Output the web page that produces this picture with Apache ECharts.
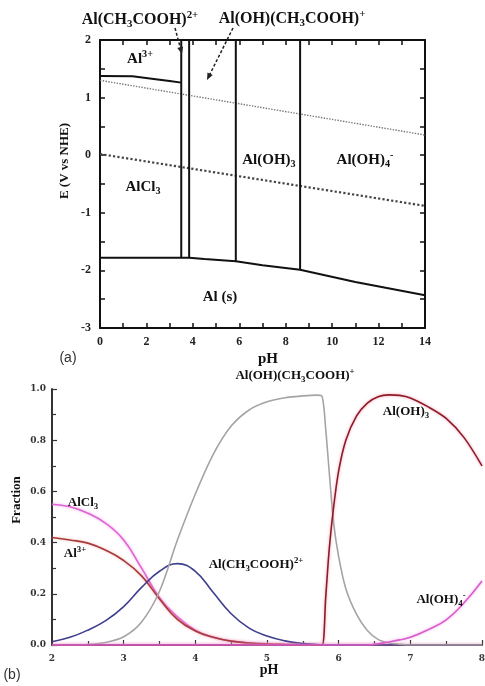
<!DOCTYPE html>
<html>
<head>
<meta charset="utf-8">
<script src="https://cdn.jsdelivr.net/npm/echarts@6/dist/echarts.min.js"></script>
<style>
  html, body { margin: 0; padding: 0; background: #fff; }
  #chart { width: 485px; height: 686px; }
</style>
</head>
<body>
<div id="chart"></div>
<script>
// (a) E-pH diagram boundaries
const aqBoundaryPH = [0, 1.4, 2.4, 3.0, 3.5]
const aqBoundaryE = [1.375, 1.37, 1.32, 1.29, 1.26]
const dividerPH = [3.5, 3.84, 5.85, 8.62]
const dividerBottomE = [-1.78, -1.78, -1.84, -1.99]
const solidPH = [0, 3.84, 4.5, 5.85, 7, 8.62, 11, 14]
const solidE = [-1.78, -1.78, -1.8, -1.84, -1.91, -1.99, -2.2, -2.43]
const waterPH = [0, 14]
const oxygenE = [1.3, 0.35]
const hydrogenE = [0.02, -0.88]

// (b) species fractions
const fracPH = [2, 2.25, 2.5, 2.75, 3, 3.25, 3.5, 3.75, 4, 4.25, 4.5, 4.75, 5, 5.25, 5.5, 5.7,
  5.77, 5.82, 5.87, 5.93, 6, 6.1, 6.25, 6.4, 6.55, 6.7, 6.85, 7, 7.25, 7.5, 7.75, 8]
const fracAlCl3 = [0.55, 0.54, 0.515, 0.475, 0.41, 0.3, 0.185, 0.11, 0.058, 0.03, 0.015, 0.008, 0.004, 0.002, 0.001, 0,
  0, 0, 0, 0, 0, 0, 0, 0, 0, 0, 0, 0, 0, 0, 0, 0]
const fracAl3 = [0.42, 0.41, 0.398, 0.37, 0.33, 0.27, 0.18, 0.1, 0.055, 0.03, 0.015, 0.008, 0.004, 0.002, 0.001, 0,
  0, 0, 0, 0, 0, 0, 0, 0, 0, 0, 0, 0, 0, 0, 0, 0]
const fracAcetate = [0.013, 0.03, 0.058, 0.095, 0.15, 0.225, 0.288, 0.318, 0.288, 0.205, 0.122, 0.066, 0.035, 0.016, 0.006, 0.002,
  0, 0, 0, 0, 0, 0, 0, 0, 0, 0, 0, 0, 0, 0, 0, 0]
const fracHydroxoAcetate = [0, 0, 0.002, 0.01, 0.032, 0.09, 0.21, 0.41, 0.59, 0.745, 0.855, 0.918, 0.95, 0.966, 0.973, 0.976,
  0.97, 0.84, 0.67, 0.476, 0.345, 0.22, 0.12, 0.057, 0.022, 0.008, 0.003, 0, 0, 0, 0, 0]
const fracAlOH3 = [0, 0, 0, 0, 0, 0, 0, 0, 0, 0, 0, 0, 0, 0, 0, 0,
  0, 0.19, 0.38, 0.54, 0.68, 0.8, 0.895, 0.945, 0.97, 0.977, 0.975, 0.965, 0.93, 0.885, 0.81, 0.7]
const fracAlOH4 = [0, 0, 0, 0, 0, 0, 0, 0, 0, 0, 0, 0, 0, 0, 0, 0,
  0, 0, 0, 0, 0, 0, 0, 0, 0.005, 0.012, 0.02, 0.03, 0.06, 0.098, 0.165, 0.25]

const serif = 'Liberation Serif'
const zip = (xs, ys) => xs.map((x, i) => [x, ys[i]])

const chart = echarts.init(document.getElementById('chart'))

function frameAxis(extra) {
  return Object.assign({
    type: 'value',
    splitLine: { show: false },
    axisLine: { onZero: false, lineStyle: { color: '#111', width: 2 } },
    axisTick: { inside: true, length: 5, lineStyle: { color: '#111', width: 1.5 } },
    minorTick: { show: true, splitNumber: 2, length: 5, lineStyle: { color: '#111', width: 1.5 } },
    axisLabel: { show: false }
  }, extra)
}

const tickFontA = { color: '#222', fontFamily: serif, fontWeight: 'bold', fontSize: 12 }
const tickFontB = { color: '#333', fontFamily: 'DejaVu Serif', fontWeight: 'bold', fontSize: 9 }

function label(x, y, text, size, extra) {
  return Object.assign({
    type: 'text', x: x, y: y, z: 100,
    style: {
      text: text,
      align: 'center',
      verticalAlign: 'middle',
      fill: '#111',
      fontFamily: serif,
      fontWeight: 'bold',
      fontSize: size,
      rich: {
        n: { fontFamily: serif, fontWeight: 'bold', fontSize: size, lineHeight: size + 4, fill: '#111' },
        sub: { fontFamily: serif, fontWeight: 'bold', fontSize: size * 0.68, lineHeight: size * 0.68, verticalAlign: 'bottom', fill: '#111' },
        sup: { fontFamily: serif, fontWeight: 'bold', fontSize: size * 0.68, lineHeight: size * 0.68, verticalAlign: 'top', fill: '#111' }
      }
    }
  }, extra)
}

function arrow(x1, y1, x2, y2) {
  const a = Math.atan2(y2 - y1, x2 - x1)
  const L = 7, W = 3
  return [
    { type: 'line', z: 100, shape: { x1: x1, y1: y1, x2: x2 - 4 * Math.cos(a), y2: y2 - 4 * Math.sin(a) },
      style: { stroke: '#222', lineWidth: 1.5, lineDash: [3, 2] } },
    { type: 'polygon', z: 100, shape: { points: [
      [x2, y2],
      [x2 - L * Math.cos(a) + W * Math.sin(a), y2 - L * Math.sin(a) - W * Math.cos(a)],
      [x2 - L * Math.cos(a) - W * Math.sin(a), y2 - L * Math.sin(a) + W * Math.cos(a)]
    ] }, style: { fill: '#222' } }
  ]
}

const hydroxoAcetate = '{n|Al(OH)(CH}{sub|3}{n|COOH)}{sup|+}'
const acetate = '{n|Al(CH}{sub|3}{n|COOH)}{sup|2+}'

function fracSeries(name, values, color, glow, smooth) {
  return {
    name: name, type: 'line', xAxisIndex: 2, yAxisIndex: 2,
    data: zip(fracPH, values), symbol: 'none', smooth: smooth || 0.45,
    lineStyle: { color: color, width: 1.6, shadowColor: glow || 'transparent', shadowBlur: glow ? 3 : 0 }
  }
}

chart.setOption({
  animation: false,
  backgroundColor: '#fff',
  grid: [
    { left: 100, top: 40, width: 325, height: 288, containLabel: false, outerBoundsMode: 'none' },
    { left: 52, top: 389, width: 430, height: 256, containLabel: false, outerBoundsMode: 'none' }
  ],
  xAxis: [
    frameAxis({ gridIndex: 0, position: 'bottom', min: 0, max: 14, interval: 2,
      axisLabel: Object.assign({ show: true, margin: 8 }, tickFontA) }),
    frameAxis({ gridIndex: 0, position: 'top', min: 0, max: 14, interval: 2 }),
    frameAxis({ gridIndex: 1, position: 'bottom', min: 2, max: 8, interval: 1,
      axisLine: { onZero: false, lineStyle: { color: '#333', width: 2 } },
      axisTick: { inside: true, length: 5, lineStyle: { color: '#333', width: 1.2 } },
      minorTick: { show: true, splitNumber: 2, length: 4, lineStyle: { color: '#333', width: 1.2 } },
      axisLabel: Object.assign({ show: true, margin: 9 }, tickFontB) })
  ],
  yAxis: [
    frameAxis({ gridIndex: 0, position: 'left', min: -3, max: 2, interval: 1,
      axisLabel: Object.assign({ show: true, margin: 9 }, tickFontA) }),
    frameAxis({ gridIndex: 0, position: 'right', min: -3, max: 2, interval: 1 }),
    frameAxis({ gridIndex: 1, position: 'left', min: 0, max: 1, interval: 0.2,
      axisLine: { onZero: false, lineStyle: { color: '#333', width: 2 } },
      axisTick: { inside: true, length: 5, lineStyle: { color: '#333', width: 1.2 } },
      minorTick: { show: true, splitNumber: 2, length: 4, lineStyle: { color: '#333', width: 1.2 } },
      axisLabel: Object.assign({ show: true, margin: 6, formatter: v => v.toFixed(1) }, tickFontB) })
  ],
  series: [
    { type: 'line', xAxisIndex: 0, yAxisIndex: 0, symbol: 'none', data: zip(waterPH, oxygenE),
      lineStyle: { color: '#777', width: 1.4, type: 'dotted' } },
    { type: 'line', xAxisIndex: 0, yAxisIndex: 0, symbol: 'none', data: zip(waterPH, hydrogenE),
      lineStyle: { color: '#444', width: 2.2, type: 'dotted' } },
    { type: 'line', xAxisIndex: 0, yAxisIndex: 0, symbol: 'none', data: zip(aqBoundaryPH, aqBoundaryE),
      lineStyle: { color: '#111', width: 2 } },
    { type: 'line', xAxisIndex: 0, yAxisIndex: 0, symbol: 'none', data: zip(solidPH, solidE),
      lineStyle: { color: '#111', width: 2 } },
    ...dividerPH.map((p, i) => ({
      type: 'line', xAxisIndex: 0, yAxisIndex: 0, symbol: 'none',
      data: [[p, 2], [p, dividerBottomE[i]]],
      lineStyle: { color: '#111', width: 2 }
    })),
    fracSeries('AlCl3', fracAlCl3, '#e064d4', 'rgba(240,150,230,0.8)'),
    fracSeries('Al3+', fracAl3, '#a83a3a', 'rgba(230,140,140,0.6)'),
    fracSeries('Al(CH3COOH)2+', fracAcetate, '#3e3e8e'),
    fracSeries('Al(OH)(CH3COOH)+', fracHydroxoAcetate, '#a4a4a4', null, 0.3),
    fracSeries('Al(OH)3', fracAlOH3, '#8e1c24', 'rgba(235,130,170,0.8)', 0.3),
    fracSeries('Al(OH)4-', fracAlOH4, '#d85ccc', 'rgba(240,150,230,0.8)')
  ],
  graphic: [
    // panel (a)
    label(140, 20, acetate, 16),
    label(292, 19, hydroxoAcetate, 16),
    ...arrow(175, 28, 182, 54),
    ...arrow(233, 28, 207, 80),
    label(140, 59, '{n|Al}{sup|3+}', 15),
    label(143, 187, '{n|AlCl}{sub|3}', 15),
    label(269, 160, '{n|Al(OH)}{sub|3}', 15),
    label(365, 160, '{n|Al(OH)}{sub|4}{sup|-}', 15),
    label(220, 297, '{n|Al (s)}', 15),
    label(65, 161, '{n|E (V vs NHE)}', 13, { rotation: Math.PI / 2 }),
    label(268, 359, '{n|pH}', 15),
    { type: 'text', x: 68, y: 358, style: { text: '(a)', align: 'center', verticalAlign: 'middle',
      fill: '#333', fontFamily: 'Liberation Sans', fontSize: 14 } },
    // panel (b)
    label(295, 376, hydroxoAcetate, 13),
    label(406, 412, '{n|Al(OH)}{sub|3}', 13),
    label(83, 503, '{n|AlCl}{sub|3}', 13),
    label(75, 554, '{n|Al}{sup|3+}', 13),
    label(256, 565, acetate, 13),
    label(441, 600, '{n|Al(OH)}{sub|4}{sup|-}', 13),
    label(17, 500, '{n|Fraction}', 13, { rotation: Math.PI / 2 }),
    label(269, 670, '{n|pH}', 14),
    { type: 'text', x: 12, y: 675, style: { text: '(b)', align: 'center', verticalAlign: 'middle',
      fill: '#333', fontFamily: 'Liberation Sans', fontSize: 14 } }
  ]
})
</script>
</body>
</html>
